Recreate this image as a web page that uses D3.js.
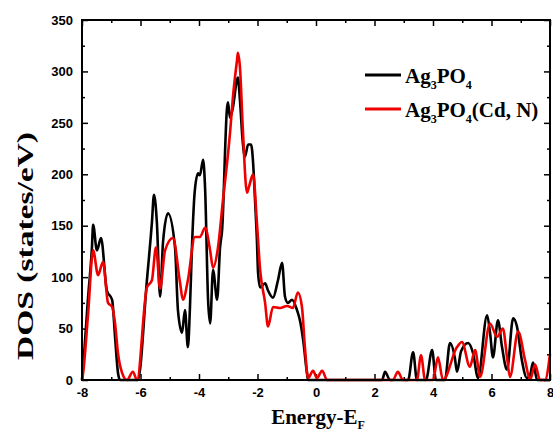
<!DOCTYPE html>
<html>
<head>
<meta charset="utf-8">
<script src="https://cdn.jsdelivr.net/npm/d3@7"></script>
<style>
  body { margin: 0; background: #fff; }
  .tick text { font-family: "Liberation Sans", Arial, sans-serif; font-weight: bold; font-size: 13px; fill: #000; }
  .tick line { stroke: #000; stroke-width: 1.5; }
  .ttl { font-family: "Liberation Serif", "Times New Roman", serif; font-weight: bold; fill: #000; }
</style>
</head>
<body>
<svg id="chart" width="553" height="432"></svg>
<script>
// pure Ag3PO4
var eBlack = [-8.00,-7.97,-7.79,-7.66,-7.62,-7.49,-7.35,-7.15,-6.97,-6.87,-6.77,-6.70,
  -6.12,-6.09,-5.78,-5.61,-5.54,-5.44,-5.33,-5.23,-5.06,-4.82,-4.72,-4.58,-4.48,-4.38,
  -4.31,-4.24,-4.14,-4.03,-3.97,-3.86,-3.79,-3.69,-3.62,-3.52,-3.38,-3.28,-3.21,-3.04,
  -3.01,-2.94,-2.84,-2.70,-2.67,-2.60,-2.50,-2.43,-2.32,-2.22,-2.15,-2.09,-2.02,-1.98,
  -1.91,-1.74,-1.64,-1.47,-1.30,-1.16,-1.06,-0.96,-0.82,-0.65,-0.55,-0.44,-0.31,-0.27,
  2.26,2.36,2.53,3.15,3.32,3.45,3.76,3.97,4.10,4.41,4.58,4.75,4.82,4.96,5.20,5.37,5.54,
  5.85,5.95,6.05,6.22,6.36,6.53,6.74,6.87,7.04,7.21,7.32,7.42,7.56,8.00]
var dosBlack = [0,10,81,129,151,126,138,87,78,42,7,0,
  0,0,97,153,180,153,81,134,162,129,68,46,68,32,
  70,130,185,201,199,214,185,78,55,107,78,129,146,265,
  270,255,265,292,294,272,230,217,229,229,211,178,136,104,
  90,94,87,80,97,114,81,75,78,68,58,39,7,0,
  0,8,0,0,27,0,0,29,0,0,36,21,8,28,36,26,2,
  63,46,22,58,32,10,60,52,19,2,5,17,0,0]

// Ag3PO4 co-doped with Cd, N
var eRed = [-8.00,-7.97,-7.79,-7.62,-7.45,-7.28,-7.11,-6.97,-6.87,-6.77,-6.63,-6.46,-6.26,
  -6.12,-5.78,-5.61,-5.47,-5.33,-5.16,-4.89,-4.65,-4.55,-4.38,-4.14,-3.97,-3.79,-3.62,
  -3.52,-3.35,-3.18,-2.94,-2.84,-2.70,-2.67,-2.60,-2.50,-2.36,-2.29,-2.15,-2.02,-1.91,
  -1.74,-1.64,-1.47,-1.23,-0.99,-0.79,-0.62,-0.48,-0.38,-0.27,-0.10,0.03,0.21,0.38,
  2.63,2.80,2.97,3.45,3.59,3.73,4.00,4.17,4.34,4.82,4.99,5.26,5.44,5.61,5.95,6.19,6.39,
  6.53,6.63,6.91,7.15,7.32,7.49,7.66,7.83,8.00]
var dosRed = [0,5,65,126,102,115,75,71,55,26,7,0,8,
  0,90,97,129,89,126,138,95,78,97,139,139,148,126,
  109,129,175,240,275,311,318,304,243,182,188,200,153,107,
  75,52,71,70,72,70,85,71,32,2,9,2,9,0,
  0,8,0,0,24,0,0,22,0,32,37,13,29,3,55,42,50,
  22,3,47,19,0,15,0,0,25]

var xTicks = [-8,-6,-4,-2,0,2,4,6,8]
var xMinor = [-7,-5,-3,-1,1,3,5,7]
var yTicks = [0,50,100,150,200,250,300,350]
var yMinor = [25,75,125,175,225,275,325]

var svg = d3.select("#chart")
var plotL = 82, plotR = 550, plotT = 20, plotB = 380

var xScale = d3.scaleLinear().domain([-8, 8]).range([plotL, plotR])
var yScale = d3.scaleLinear().domain([0, 350]).range([plotB, plotT])

// ticks, all pointing inward
function addAxis(axis, tx, ty, minor) {
  var g = svg.append("g")
    .attr("transform", "translate(" + tx + "," + ty + ")")
    .call(axis)
  g.select(".domain").remove()
  if (minor) g.selectAll("text").remove()
  return g
}
addAxis(d3.axisBottom(xScale).tickValues(xTicks).tickSize(-6).tickPadding(8).tickFormat(function(d) { return String(d) }), 0, plotB)
addAxis(d3.axisBottom(xScale).tickValues(xMinor).tickSize(-3), 0, plotB, true)
addAxis(d3.axisTop(xScale).tickValues(xTicks).tickSize(-6), 0, plotT, true)
addAxis(d3.axisTop(xScale).tickValues(xMinor).tickSize(-3), 0, plotT, true)
addAxis(d3.axisLeft(yScale).tickValues(yTicks).tickSize(-6).tickPadding(9), plotL, 0)
addAxis(d3.axisLeft(yScale).tickValues(yMinor).tickSize(-3), plotL, 0, true)
addAxis(d3.axisRight(yScale).tickValues(yTicks).tickSize(-6), plotR, 0, true)
addAxis(d3.axisRight(yScale).tickValues(yMinor).tickSize(-3), plotR, 0, true)

var line = d3.line()
  .x(function(d) { return xScale(d[0]) })
  .y(function(d) { return yScale(d[1]) })
  .curve(d3.curveMonotoneX)

svg.append("path")
  .datum(d3.zip(eBlack, dosBlack))
  .attr("d", line)
  .style("fill", "none")
  .style("stroke", "#000")
  .style("stroke-width", 2.6)
  .style("stroke-linejoin", "round")

svg.append("path")
  .datum(d3.zip(eRed, dosRed))
  .attr("d", line)
  .style("fill", "none")
  .style("stroke", "#ee0000")
  .style("stroke-width", 2.6)
  .style("stroke-linejoin", "round")

// frame
svg.append("rect")
  .attr("x", plotL).attr("y", plotT)
  .attr("width", plotR - plotL).attr("height", plotB - plotT)
  .style("fill", "none").style("stroke", "#000").style("stroke-width", 2)

// axis titles
svg.append("text")
  .attr("class", "ttl")
  .attr("transform", "translate(33,246) rotate(-90)")
  .attr("text-anchor", "middle")
  .attr("textLength", 228)
  .attr("lengthAdjust", "spacingAndGlyphs")
  .style("font-size", "24px")
  .text("DOS (states/eV)")

var xt = svg.append("text")
  .attr("class", "ttl")
  .attr("x", 318).attr("y", 424)
  .attr("text-anchor", "middle")
  .style("font-size", "21px")
xt.append("tspan").text("Energy-E")
xt.append("tspan").attr("dy", 5).style("font-size", "12px").text("F")

// legend
var legend = [
  { color: "#000", parts: [["Ag", 0], ["3", 1], ["PO", 0], ["4", 1]] },
  { color: "#ee0000", parts: [["Ag", 0], ["3", 1], ["PO", 0], ["4", 1], ["(Cd, N)", 0]] }
]
legend.forEach(function(item, i) {
  var ly = 75 + i * 34
  svg.append("line")
    .attr("x1", 365).attr("x2", 401)
    .attr("y1", ly).attr("y2", ly)
    .style("stroke", item.color).style("stroke-width", 3)
  var t = svg.append("text")
    .attr("class", "ttl")
    .attr("x", 405).attr("y", ly + 8)
    .style("font-size", "21px")
  var low = false
  item.parts.forEach(function(p) {
    var s = t.append("tspan").text(p[0])
    if (p[1] && !low) { s.attr("dy", 6).style("font-size", "12px"); low = true }
    else if (p[1]) { s.style("font-size", "12px") }
    else if (low) { s.attr("dy", -6); low = false }
  })
})
</script>
</body>
</html>
